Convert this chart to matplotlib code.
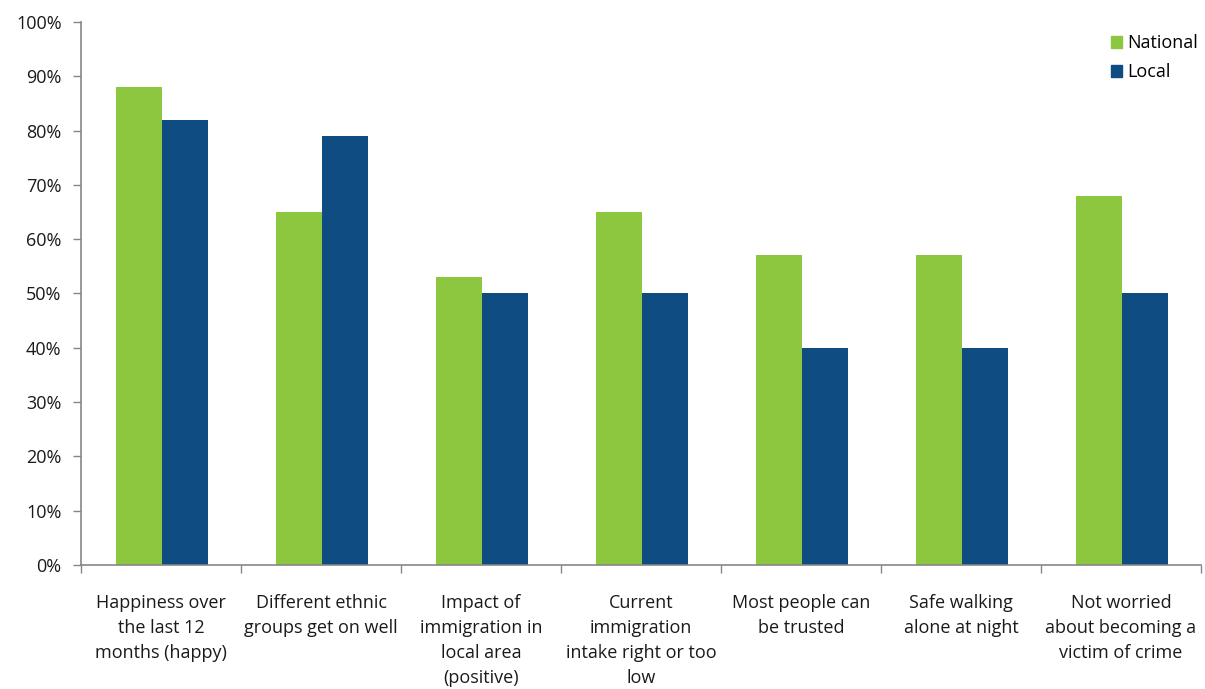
import matplotlib
matplotlib.use("Agg")
import matplotlib.pyplot as plt
import numpy as np
from matplotlib.patches import Patch

categories = [
    "Happiness over\nthe last 12\nmonths (happy)",
    "Different ethnic\ngroups get on well",
    "Impact of\nimmigration in\nlocal area\n(positive)",
    "Current\nimmigration\nintake right or too\nlow",
    "Most people can\nbe trusted",
    "Safe walking\nalone at night",
    "Not worried\nabout becoming a\nvictim of crime",
]
national = [88, 65, 53, 65, 57, 57, 68]
local = [82, 79, 50, 50, 40, 40, 50]
series_names = ["National", "Local"]
yticks = list(range(0, 101, 10))

green = "#8DC63F"
blue = "#0F4C81"
axis_col = "#868686"

plt.rcParams['font.family'] = ['Open Sans', 'DejaVu Sans']

fig = plt.figure(figsize=(12.05, 6.89), dpi=100)
ax = fig.add_axes([81/1205, 1-565/689, 1120/1205, 543/689])

x = np.arange(len(categories))
w = 0.2875
ax.bar(x - w/2 + 0.005, national, width=w, color=green, label=series_names[0])
ax.bar(x + w/2 + 0.005, local, width=w, color=blue, label=series_names[1])

ax.set_xlim(-0.5, len(categories) - 0.5)
ax.set_ylim(0, 100)
ax.set_yticks(yticks)
ax.set_yticklabels([f"{v}%" for v in yticks], fontsize=13, color="#1a1a1a")
ax.set_xticks(np.arange(len(categories) + 1) - 0.5)
ax.set_xticklabels([])
ax.set_xticks(x, minor=True)
ax.set_xticklabels(categories, minor=True, fontsize=13, color="#1a1a1a", linespacing=1.5, va="top")
ax.tick_params(axis="x", which="minor", length=0, pad=21)
ax.tick_params(axis="x", which="major", length=6, width=1, color=axis_col, direction="out")
ax.tick_params(axis="y", length=6, width=1, color=axis_col, direction="out", pad=8)

for s in ["top", "right"]:
    ax.spines[s].set_visible(False)
for s in ["left", "bottom"]:
    ax.spines[s].set_color(axis_col)
    ax.spines[s].set_linewidth(1.2)

handles = [Patch(color=green, label=series_names[0]), Patch(color=blue, label=series_names[1])]
leg = ax.legend(handles=handles, loc="upper right", bbox_to_anchor=(1.012, 1.007), frameon=False,
                fontsize=13, handlelength=0.6, handleheight=0.6, handletextpad=0.3, labelspacing=0.6)

fig.savefig("out.png", dpi=100)
